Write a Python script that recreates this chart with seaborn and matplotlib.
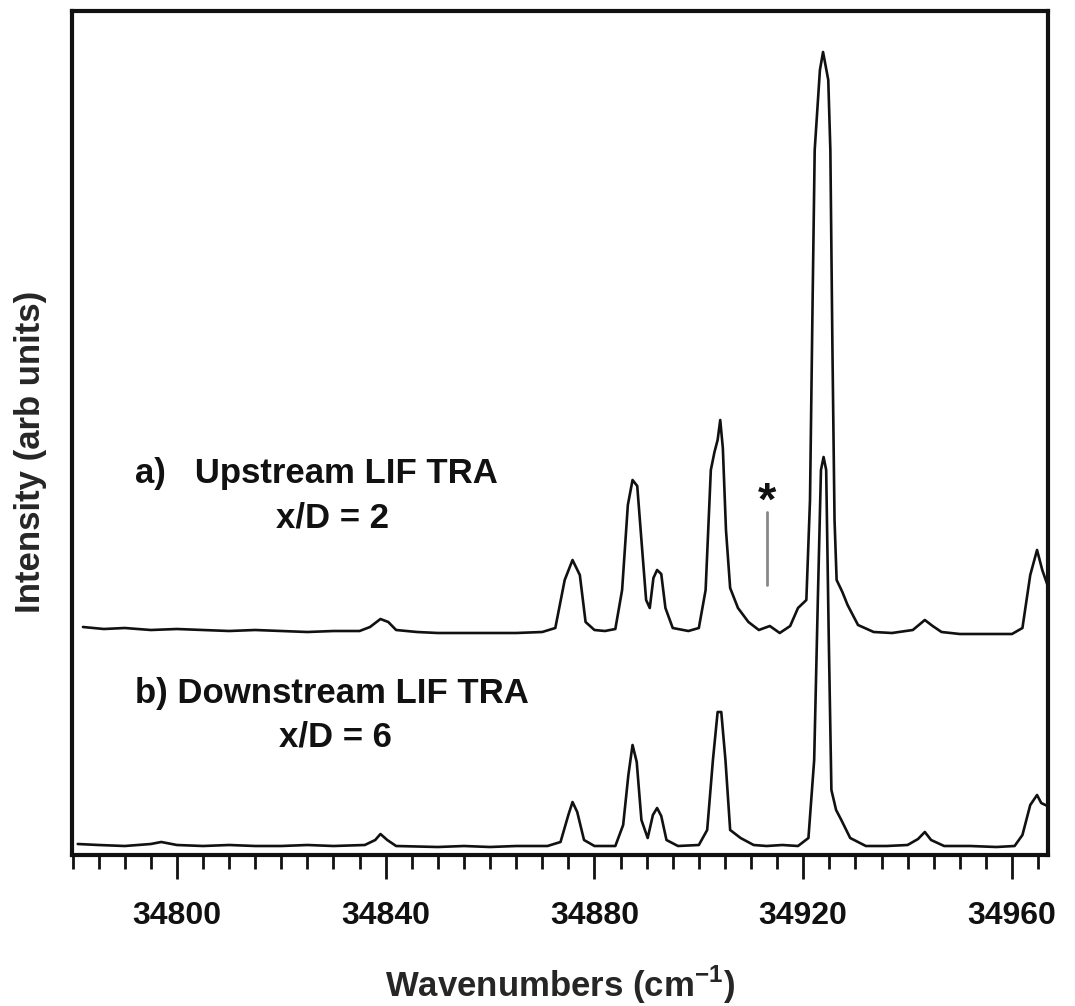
import matplotlib
matplotlib.use("Agg")
import matplotlib.pyplot as plt
import seaborn as sns
import pandas as pd
from matplotlib.ticker import MultipleLocator

# ---------------- data ----------------
wn_a = [34782.0, 34786, 34790, 34795, 34800, 34805, 34810, 34815, 34820, 34825,
        34830, 34835, 34837, 34839, 34840.5, 34842, 34846, 34850, 34855, 34860,
        34865, 34870, 34872.5, 34874.3, 34875.8, 34877.2, 34878.3, 34880, 34882, 34884,
        34885.3, 34886.4, 34887.3, 34888.2, 34889, 34889.9, 34890.6, 34891.3, 34892.0, 34892.8,
        34893.6, 34895, 34898, 34900, 34901.3, 34902.3, 34903.0, 34903.6, 34904.1, 34904.6,
        34905.2, 34906, 34907.5, 34909.5, 34911.5, 34913.6, 34915.5, 34917.5, 34919, 34920.6,
        34921.3, 34921.8, 34922.2, 34923.2, 34923.8, 34924.8, 34925.2, 34925.6, 34926.0, 34926.4,
        34927.5, 34928.5, 34930.5, 34933.5, 34937, 34941, 34943.3, 34944.8, 34946.5, 34950,
        34955, 34960, 34962, 34963.5, 34964.8, 34965.8, 34966.8]
int_a = [2.28, 2.26, 2.27, 2.25, 2.26, 2.25, 2.24, 2.25, 2.24, 2.23,
         2.24, 2.24, 2.28, 2.36, 2.33, 2.25, 2.23, 2.22, 2.22, 2.22,
         2.22, 2.23, 2.27, 2.75, 2.95, 2.80, 2.33, 2.25, 2.24, 2.26,
         2.65, 3.50, 3.75, 3.69, 3.15, 2.55, 2.47, 2.77, 2.85, 2.81,
         2.47, 2.27, 2.24, 2.27, 2.65, 3.85, 4.03, 4.15, 4.35, 4.07,
         3.25, 2.67, 2.47, 2.33, 2.25, 2.29, 2.22, 2.29, 2.47, 2.55,
         3.55, 5.55, 7.05, 7.85, 8.03, 7.75, 7.05, 5.05, 3.35, 2.75,
         2.63, 2.50, 2.30, 2.23, 2.22, 2.25, 2.35, 2.29, 2.23, 2.21,
         2.21, 2.21, 2.27, 2.80, 3.05, 2.85, 2.70]

wn_b = [34781, 34785, 34790, 34795, 34797, 34800, 34805, 34810, 34815, 34820,
        34825, 34830, 34836, 34838, 34839, 34840.3, 34842, 34850, 34855, 34860,
        34865, 34871, 34873.5, 34875, 34875.8, 34876.7, 34878, 34880, 34884, 34885.5,
        34886.5, 34887.3, 34888.1, 34889, 34890.2, 34891.2, 34892.0, 34892.8, 34893.8, 34896,
        34900, 34901.6, 34902.7, 34903.6, 34904.3, 34905.1, 34906, 34908, 34910.5, 34913,
        34916, 34919, 34921, 34922.1, 34922.8, 34923.4, 34923.9, 34924.4, 34924.9, 34925.4,
        34926.3, 34927.3, 34929, 34932, 34936, 34940, 34942, 34943.3, 34944.5, 34947,
        34952, 34957, 34960.5, 34962, 34963.5, 34964.8, 34965.6, 34966.8]
int_b = [0.11, 0.10, 0.09, 0.11, 0.13, 0.10, 0.09, 0.10, 0.09, 0.09,
         0.10, 0.09, 0.10, 0.15, 0.21, 0.15, 0.09, 0.08, 0.09, 0.08,
         0.09, 0.09, 0.13, 0.40, 0.53, 0.43, 0.15, 0.09, 0.09, 0.30,
         0.80, 1.10, 0.93, 0.35, 0.17, 0.40, 0.47, 0.39, 0.15, 0.09,
         0.10, 0.25, 0.95, 1.43, 1.43, 0.95, 0.25, 0.17, 0.10, 0.09,
         0.10, 0.09, 0.17, 0.95, 2.55, 3.85, 3.98, 3.85, 2.15, 0.65,
         0.45, 0.35, 0.17, 0.09, 0.09, 0.10, 0.16, 0.23, 0.15, 0.09,
         0.09, 0.08, 0.09, 0.20, 0.50, 0.60, 0.52, 0.49]

x_ticks_major = [34800, 34840, 34880, 34920, 34960]

df_a = pd.DataFrame({"wavenumber": wn_a, "intensity": int_a})
df_b = pd.DataFrame({"wavenumber": wn_b, "intensity": int_b})

# ---------------- style ----------------
sns.set_style("ticks")
plt.rcParams["font.family"] = ["Liberation Sans", "DejaVu Sans"]
plt.rcParams["font.weight"] = "bold"
plt.rcParams["mathtext.fontset"] = "custom"
plt.rcParams["mathtext.rm"] = "Liberation Sans:bold"
plt.rcParams["mathtext.bf"] = "Liberation Sans:bold"

W, H = 1075, 1006
fig = plt.figure(figsize=(W / 100, H / 100), dpi=100)
ax = fig.add_axes([72 / W, 1 - 855 / H, (1048 - 72) / W, (855 - 11) / H])

sns.lineplot(data=df_a, x="wavenumber", y="intensity", ax=ax, color="#111111",
             linewidth=1.9, sort=True, estimator=None)
sns.lineplot(data=df_b, x="wavenumber", y="intensity", ax=ax, color="#111111",
             linewidth=1.9, sort=True, estimator=None)

ax.set_xlim(34779.9, 34966.9)
ax.set_ylim(0, 8.44)
ax.set_yticks([])
ax.set_xticks(x_ticks_major)
ax.xaxis.set_minor_locator(MultipleLocator(5))
ax.tick_params(axis="x", which="major", direction="out", length=17, width=2,
               labelsize=23, pad=16, colors="#111111")
ax.tick_params(axis="x", which="minor", direction="out", length=10, width=2,
               colors="#111111")
for lab in ax.get_xticklabels():
    lab.set_fontweight("bold")
for s in ax.spines.values():
    s.set_visible(True)
    s.set_linewidth(3)
    s.set_color("#111111")

ax.set_xlabel("Wavenumbers (cm$^{\\mathbf{-1}}$)", fontsize=25, fontweight="bold")
ax.xaxis.label.set_va("center")
ax.xaxis.set_label_coords((560 - 72) / 976, (855 - 985) / 844)
ax.set_ylabel("Intensity (arb units)", fontsize=25, fontweight="bold")
ax.yaxis.label.set_va("center")
ax.yaxis.set_label_coords((31 - 72) / 976, (855 - 452) / 844)

# ---------------- annotations ----------------
def ftxt(px, py, s, size=25, **kw):
    fig.text(px / W, 1 - py / H, s, fontsize=size, fontweight="bold",
             color="#111111", va="center", **kw)

ftxt(135, 474, "a)   Upstream LIF TRA", ha="left")
ftxt(333, 518, "x/D = 2", ha="center")
ftxt(135, 693, "b) Downstream LIF TRA", ha="left")
ftxt(335, 737, "x/D = 6", ha="center")
ftxt(767, 503, "*", size=34, ha="center")
fig.add_artist(plt.Line2D([767 / W, 767 / W], [1 - 512 / H, 1 - 585 / H],
                          color="#888888", linewidth=2))

fig.savefig("out.png", dpi=100, facecolor="white")
